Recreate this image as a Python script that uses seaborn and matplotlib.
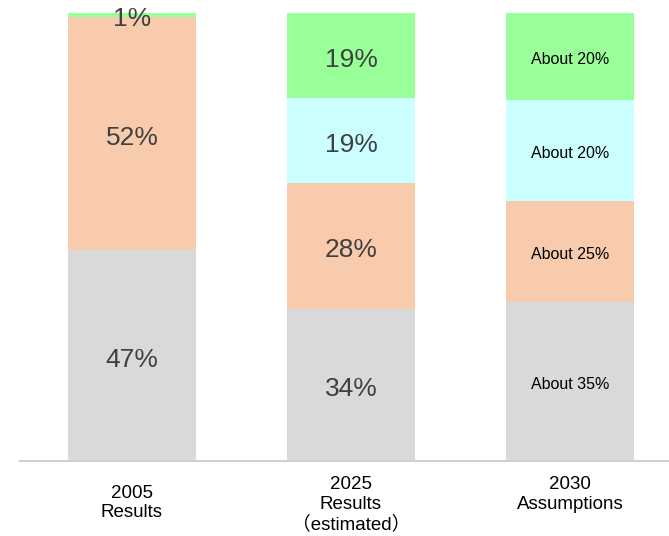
import numpy as np
import pandas as pd
import matplotlib
matplotlib.use('Agg')
import matplotlib.pyplot as plt
import seaborn as sns

# Data
years = ['2005', '2025', '2030']
tick_labels = ['2005\nResults', '2025\nResults\n（estimated）', '2030\nAssumptions']
gray_vals = [47, 34, 35.5]
peach_vals = [52, 28, 22.5]
cyan_vals = [0, 19, 22.5]
green_vals = [1, 19, 19.5]
gray_text = ['47%', '34%', 'About 35%']
peach_text = ['52%', '28%', 'About 25%']
cyan_text = ['', '19%', 'About 20%']
green_text = ['1%', '19%', 'About 20%']

colors = ['#d9d9d9', '#f8cbad', '#ccffff', '#99ff99']

df = pd.DataFrame({'year': years, 'gray': gray_vals, 'peach': peach_vals,
                   'cyan': cyan_vals, 'green': green_vals})
seg_cols = ['gray', 'peach', 'cyan', 'green']
texts = [gray_text, peach_text, cyan_text, green_text]
cum = df[seg_cols].cumsum(axis=1)

sns.set_style('white')
plt.rcParams['font.family'] = ['Liberation Sans', 'Noto Sans CJK JP', 'DejaVu Sans']

fig = plt.figure(figsize=(6.69, 5.36), dpi=100)
ax = fig.add_axes([20 / 669, 75 / 536, 1 - 20 / 669, 448 / 536])

# draw cumulative bars from the top down so they stack
for col, c in zip(reversed(seg_cols), reversed(colors)):
    sns.barplot(x=df['year'], y=cum[col], order=years, color=c, saturation=1,
                width=0.585, linewidth=0, ax=ax)

# segment labels
for j, col in enumerate(seg_cols):
    bottoms = cum[col] - df[col]
    for i in range(len(years)):
        if df[col][i] == 0:
            continue
        mid = bottoms[i] + df[col][i] / 2
        if i < 2:
            ax.annotate(texts[j][i], xy=(i, mid), xytext=(0, -3),
                        textcoords='offset points', ha='center', va='center',
                        fontsize=19, color='#404040')
        else:
            ax.annotate(texts[j][i], xy=(i, mid), xytext=(0, -2),
                        textcoords='offset points', ha='center', va='center',
                        fontsize=11.5, color='black')

ax.set_ylim(0, 100)
ax.set_xlim(-0.511, 2.452)
ax.set_xticks([])
ax.set_yticks([])
ax.set_xlabel('')
ax.set_ylabel('')
for s in ['top', 'right', 'left']:
    ax.spines[s].set_visible(False)
ax.spines['bottom'].set_color('#d0d0d0')
ax.spines['bottom'].set_linewidth(1.5)

# category labels under the bars
offsets = [17, 11, 11]
spacing = [1.15, 1.2, 1.2]
for i, lab in enumerate(tick_labels):
    ax.annotate(lab, xy=(i, 0), xycoords=('data', 'axes fraction'),
                xytext=(0, -offsets[i]), textcoords='offset points',
                ha='center', va='top', fontsize=13.5, linespacing=spacing[i],
                color='black')

fig.savefig('out.png', dpi=100)
